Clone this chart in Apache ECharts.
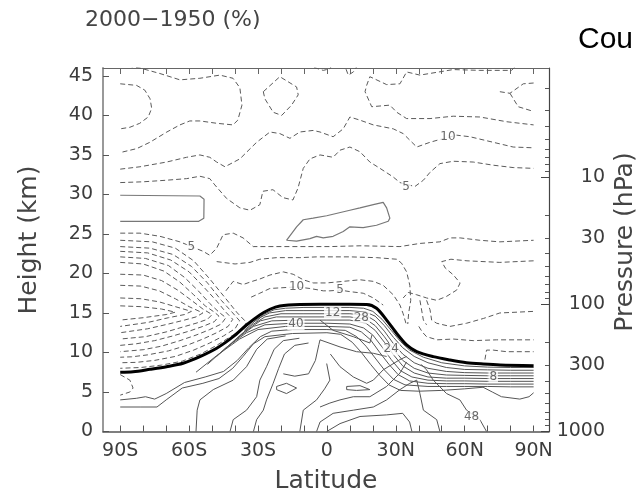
<!DOCTYPE html>
<html><head><meta charset="utf-8">
<script src="https://cdn.jsdelivr.net/npm/echarts@6/dist/echarts.min.js"></script>
<style>html,body{margin:0;padding:0;background:#fff}#c{width:636px;height:497px}</style>
</head><body><div id="c"></div>
<script>
// ---------- axis ticks / labels ----------
const xTickValues = [-90,-80,-70,-60,-50,-40,-30,-20,-10,0,10,20,30,40,50,60,70,80,90];
const xLabelValues = [-90,-60,-30,0,30,60,90];
const xLabelTexts = ['90S','60S','30S','0','30N','60N','90N'];
const yTickValues = [0,5,10,15,20,25,30,35,40,45];
const pressureTicks = [2,3,4,5,6,7,8,9,10,20,30,40,50,60,70,80,90,100,200,300,400,500,600,700,800,900,1000];
const pressureMajor = [10,100,1000];
const pressureLabels = [10,30,100,300,1000];

// ---------- tropopause (thick line): [latitude, height km] ----------
const tropopause = [[-90,7.5],[-84.4,7.57],[-77.1,7.87],[-69.8,8.2],[-62.6,8.63],[-55.3,9.47],[-48,10.53],[-40.8,12.0],[-35,13.48],[-29.2,14.75],[-24.8,15.47],[-20.5,15.89],[-11.8,16.08],[-3,16.1],[10,16.1],[17.3,16.08],[21.6,15.6],[26,14.1],[30.4,12.4],[34.7,10.95],[39.1,10.1],[46.3,9.47],[53.6,9.05],[60.8,8.71],[68.1,8.54],[75.4,8.42],[90,8.33]];

// ---------- negative (dashed) contours ----------
const negLoopOuter = [[-90,46.4],[-81.4,46.0],[-72.7,45.3],[-64,44.5],[-55.3,44.7],[-46.6,45.1],[-40.9,44.7],[-37.9,43.5],[-37,41.3],[-38.8,39.4],[-40.9,38.8],[-47.9,39.0],[-55.3,39.3],[-59.7,39.3],[-64,38.8],[-69.7,37.9],[-77.1,36.6],[-82.8,35.8],[-90,35.3]];
const negLoopInner = [[-90,44.0],[-82.9,43.8],[-79.3,43.2],[-77,42.1],[-76.3,40.9],[-77.8,39.8],[-81.5,39.0],[-85.8,38.5],[-90,38.3]];
const negDiamond = [[-27.7,43],[-20.5,44.9],[-13.2,43.6],[-12.5,42.6],[-15.4,41.3],[-19.7,40],[-23.4,40.4],[-27,42.1],[-27.7,43]];
const negTopA = [[-12,46.8],[-6,46.1],[-1.6,45.7],[1.3,45.9],[3,46.8]];
const negTopV = [[7.1,46.8],[9.3,45.1],[11.5,45.5],[14.4,46.8]];
const negLobe = [[84.1,46.8],[80.4,45.7],[66.6,45.7],[55,45.8],[40.5,45.1],[34.7,45.5],[31.8,44],[26,43.9],[18.7,44.9],[17.3,43.8],[16.6,43],[19.5,41.1],[27.4,41.3],[30.4,40.4],[34.7,39.6],[44.9,39.6],[55,39.9],[66.6,39.8],[78.3,39.2],[90,38.8]];
const negY1 = [[75.3,43],[79.7,42.8],[85.5,44],[90,44.1]];
const negY2 = [[79.7,42.8],[83.3,41.1],[90,40.5]];
const negL3 = [[-90,33.2],[-81.4,33.5],[-69.8,34.1],[-61.1,34.7],[-55.3,35],[-51,34.7],[-48,34.1],[-44.4,33.5],[-37.9,34.5],[-30.6,36.6],[-24.8,37.9],[-20.5,37.7],[-16.1,37.1],[-11.8,37.9],[-6,38.1],[-3,37.9],[2.7,37.3],[7.1,38.3],[10,39.8],[14.4,39.4],[20.2,38.8],[28.9,38.3],[33.2,37.7],[39.1,36],[44.9,36.6],[48.5,36.9],[56.5,37.5],[62.3,37.3],[72.4,36.6],[81.1,36],[90,35.9]];
const negL4 = [[-90,31.5],[-80,31.6],[-69.8,31.8],[-61.1,32],[-55.3,32.3],[-51,32],[-48.8,31.2],[-43.7,29.5],[-37.9,28.3],[-33.5,28],[-29.2,28.7],[-27.9,30.4],[-23.5,30.6],[-19.2,29.6],[-14.8,29.3],[-12.6,30.8],[-10.3,33.3],[-7.4,34.5],[-3,35],[2.7,34.7],[5.7,35.6],[10,36],[14.4,35.4],[18.7,34.1],[23.1,33.3],[28.9,32.2],[31.8,31.5],[38.3,31],[42,31.8],[44.9,32.8],[49.2,33.9],[55,34.2],[63.7,34.1],[72.4,33.7],[81.1,33.4],[90,33.3]];
const negLa = [[-90,25.1],[-81.4,25.1],[-72.7,24.7],[-64,24],[-53.9,22.8],[-51,22.3],[-48,23.2],[-45.2,24.9],[-40.8,25.1],[-36.5,24.5],[-32.1,23.4],[-24.8,23.4],[-11.8,23.4],[1.3,23.4],[14.4,23.5],[31.8,23.4],[40.5,23.8],[49.2,24],[53.6,24.5],[58,24.5],[66.6,24.2],[75.3,24],[90,24.2]];
const negU0 = [[-90,24.2],[-76,24.0],[-66,23.2],[-58,21.6],[-51,19.3],[-44,16.8],[-39,15.0],[-35,13.8],[-37,12.9],[-42,12.0],[-48,10.9],[-55,9.8],[-63,8.9],[-72,8.4],[-81,8.1],[-90,8.0]];
const negU1 = [[-90,23.4],[-77,23.2],[-67,22.4],[-59,20.9],[-52,18.8],[-46,16.6],[-41,15.0],[-38,14.0],[-40,13.0],[-45,12.1],[-51,11.2],[-58,10.3],[-66,9.5],[-75,9.0],[-83,8.75],[-90,8.7]];
const negU2 = [[-90,22.8],[-78,22.6],[-68,21.7],[-60,20.2],[-54,18.4],[-48,16.5],[-44,15.1],[-41,14.2],[-43,13.3],[-48,12.5],[-54,11.7],[-61,10.9],[-69,10.2],[-78,9.7],[-85,9.45],[-90,9.4]];
const negU3 = [[-90,22.1],[-79,21.9],[-69,21.0],[-62,19.5],[-56,17.8],[-51,16.2],[-47,15.1],[-44,14.4],[-46,13.6],[-51,12.9],[-57,12.2],[-64,11.5],[-72,10.8],[-80,10.35],[-90,10.1]];
const negU4 = [[-90,21.4],[-80,21.2],[-71,20.3],[-64,18.9],[-58,17.3],[-53,15.9],[-49,15.1],[-47,14.6],[-49,13.9],[-54,13.3],[-60,12.7],[-67,12.1],[-75,11.5],[-83,11.1],[-90,10.9]];
const negU5 = [[-90,19.9],[-80,19.8],[-72,19.1],[-65,17.9],[-59,16.6],[-54,15.5],[-50,14.8],[-52,14.2],[-57,13.7],[-63,13.2],[-70,12.6],[-79,12.0],[-90,11.7]];
const negU6 = [[-90,18.5],[-81,18.4],[-73,17.8],[-66,16.8],[-60,15.8],[-54,15.0],[-57,14.5],[-62,14.1],[-69,13.6],[-78,13.0],[-90,12.5]];
const negU7 = [[-90,16.9],[-81,16.8],[-73,16.4],[-66,15.8],[-59,15.2],[-62,14.8],[-69,14.4],[-78,13.8],[-90,13.3]];
const negU8 = [[-90,15.9],[-81,15.8],[-72,15.5],[-66,15.1],[-70,14.8],[-80,14.4],[-90,14.1]];
const negZ9b = [[-48,21.5],[-40,21.2],[-33.5,21.4],[-29.2,21.8],[-21.9,22],[-11.8,22],[-4.5,22.1],[10,22.1],[21.6,22],[30.4,21.8],[32.5,21.3],[34.7,20.2],[36.1,18.5],[36.5,16.6],[35.6,15.0],[35.2,13.6]];
const negZ9c = [[-44,17.8],[-40.8,19.0],[-36.5,18.6],[-32.5,19.0],[-29.2,19.3],[-24.8,19.8],[-19,20.2],[-14.7,19.9],[-10.3,19.2],[-6,18.8],[-0.1,18.8],[7.1,19],[14.4,19.2],[20.2,19],[24.5,18.5],[28.9,17.3],[31.8,16.0],[33.2,14.9],[34.4,13.7]];
const negZ9d = [[-33,17.0],[-29.2,17.5],[-24.8,18.1],[-13.2,18.3],[-7.4,18.1],[-1.6,17.8],[1.3,17.8],[5.7,17.9],[10,17.7],[15.8,17.5],[20.2,16.9],[24.5,16.0]];
const negZ10 = [[90,21.6],[75.3,21.4],[61,21.6],[54,21.8],[50,21.5],[51.5,20.7],[55.1,19.8],[58,18.8],[56.5,17.9],[52.1,17.1],[47.8,16.6],[43.4,16.9],[39.1,17.3],[35.4,17.6],[33.2,16.9]];
const negNH15 = [[43.4,16.6],[44.9,15.4],[45.6,14.1],[47.8,13.7],[53.6,13.3],[60.8,13.7],[68.1,14.3],[75.3,15.0],[90,15.2]];
const negNH15b = [[40.5,16.6],[42,14.1],[43.4,13.5]];
const negNH12 = [[40,13.3],[41.5,12.6],[43.4,12.0],[48,11.6],[55,11.7],[63.7,11.5],[73.9,11.6],[90,11.6]];
const negNH10 = [[68.8,9.1],[69.5,10.3],[72.4,10.3],[78.3,10.1],[90,10.1]];
const negPolarLow = [[-90,7.2],[-85.8,6.5],[-84.4,5.5],[-85.8,5.0],[-90,4.6]];

// ---------- positive (solid) contours ----------
const posBox = [[-90,29.9],[-55.3,29.8],[-53.5,29.4],[-53.6,27.0],[-55.8,26.6],[-90,26.6]];
const posTongue = [[-17.6,24.2],[-13.2,25.9],[-10.3,26.8],[-6,27.0],[-0.1,27.3],[10,28.0],[14.4,28.3],[20.2,28.7],[24.5,29.0],[26,28.3],[27.4,27.0],[26.7,26.6],[21.6,26.1],[15.8,25.8],[10,25.9],[7.1,25.3],[2.7,24.7],[-1.6,24.5],[-4.5,24.7],[-7.4,24.4],[-13.2,24.1],[-17.6,24.2]];
const band0 = [[-31,13.9],[-27,14.9],[-23,15.4],[-18,15.6],[-10,15.7],[0,15.7],[10,15.7],[16,15.6],[20,15.2],[24,14.2],[28,12.8],[32,11.4],[36,10.3],[42,9.4],[50,8.7],[60,8.3],[70,8.15],[80,8.1],[90,8.1]];
const band1 = [[-36,12.8],[-30,14.3],[-25,15.0],[-18,15.3],[-10,15.3],[0,15.3],[10,15.3],[17,15.1],[21,14.6],[25,13.4],[29,11.9],[33,10.6],[38,9.5],[44,8.7],[52,8.1],[60,7.85],[70,7.8],[80,7.75],[90,7.75]];
const band2 = [[-40,11.6],[-33,13.4],[-27,14.5],[-20,14.9],[-10,14.9],[0,14.9],[10,14.9],[17,14.7],[21,14.0],[25,12.7],[29,11.1],[33,9.8],[38,8.7],[44,8.0],[52,7.6],[60,7.45],[70,7.4],[80,7.4],[90,7.4]];
const band3 = [[-44,10.5],[-36,12.6],[-29,14.0],[-22,14.5],[-10,14.5],[0,14.5],[10,14.5],[17,14.2],[21,13.4],[25,12.0],[29,10.4],[33,9.0],[38,8.0],[44,7.4],[52,7.15],[60,7.1],[70,7.05],[80,7.05],[90,7.05]];
const band4 = [[-48,9.5],[-40,11.6],[-32,13.3],[-24,14.0],[-12,14.1],[0,14.1],[10,14.1],[17,13.7],[21,12.8],[25,11.3],[29,9.7],[33,8.3],[38,7.4],[44,6.9],[52,6.75],[60,6.75],[70,6.7],[80,6.7],[90,6.7]];
const band5 = [[-52,8.5],[-44,10.6],[-35,12.5],[-27,13.5],[-15,13.7],[0,13.7],[10,13.6],[16,13.1],[20,12.2],[24,10.7],[28,9.1],[32,7.7],[37,6.9],[44,6.5],[52,6.4],[60,6.4],[70,6.35],[80,6.35],[90,6.35]];
const band6 = [[-57,7.5],[-48,9.6],[-38,11.7],[-30,12.9],[-18,13.3],[0,13.3],[10,13.2],[15,12.6],[19,11.6],[23,10.0],[27,8.5],[31,7.2],[36,6.4],[44,6.1],[52,6.05],[60,6.05],[70,6.0],[80,6.0],[90,6.0]];
const band7 = [[-90,4.0],[-83,4.2],[-79,4.4],[-75,4.1],[-70,4.8],[-62,6.2],[-53,6.9],[-45,7.6],[-39,9.0],[-34,10.6],[-29,12.0],[-24,12.7],[-15,12.9],[0,12.9],[8,12.8],[13,12.0],[17,10.8],[21,9.3],[25,7.8],[29,6.6],[34,5.9],[44,5.7],[52,5.7],[60,5.7],[70,5.7],[80,5.65],[90,5.65]];
const band8 = [[-90,3.1],[-81,3.1],[-74,3.1],[-70,4.0],[-63,5.5],[-54,6.1],[-47,6.7],[-41,8.0],[-36.5,9.5],[-32,11.1],[-27,12.0],[-15,12.4],[0,12.5],[6,12.3],[11,11.3],[15,10.0],[19,8.5],[23,7.1],[27,5.9],[32,5.2],[40,5.1],[50,5.2],[60,5.4],[68,5.6],[72,5.0],[76,4.4],[84,4.1],[88,4.4],[90,4.9]];
const posP2 = [[-57,0],[-56.5,2.7],[-55.3,4.0],[-49.5,5.3],[-40.8,6.5],[-35,8.2],[-30.6,10.4],[-26,11.7],[-18,12.1]];
const posP3 = [[-42.2,0],[-40.8,1.5],[-35,2.7],[-30.6,4.4],[-29.2,6.5],[-26.3,8.2],[-23,10.4],[-19,11.5],[-12,11.8]];
const posP4 = [[-32,0],[-30.6,1.5],[-27.7,2.7],[-26.3,4.0],[-23.4,6.1],[-21,8.0],[-18.5,9.8],[-14,10.9],[-8,11.2]];
const posSHloop = [[-21.9,5.7],[-17.6,6.1],[-13.2,5.5],[-17.6,4.8],[-21.9,5.3],[-21.9,5.7]];
const posSHU = [[-19,7.3],[-14,7.0],[-8,7.3],[-5,9.0],[-3.5,11.0],[-3,11.6],[5.7,10.7],[12.9,10.1],[20.2,9.9],[26,9.5]];
const posT1 = [[-3,14.1],[2.7,12.8],[11.5,12.0],[18.7,11.2],[19.6,12.2]];
const posT3 = [[-0.1,8.6],[1.3,6.5],[-1,5.4],[-4.5,4.0],[-10.3,2.7],[-11.8,0]];
const posT4 = [[1.5,9.8],[5.7,8.2],[11.5,6.9],[17.3,6.1],[20.2,6.5],[24.5,7.8],[31.8,9.1],[34.7,9.5]];
const posT5 = [[-3,3.1],[1.3,3.6],[5.7,4.0],[11.5,4.4],[18.7,4.4],[26,5.7],[31.8,7.4],[34.7,8.8]];
const posT6 = [[-4.5,0],[-3,1.2],[2.7,2.3],[11.5,2.7],[20.2,3.1],[26,4.0],[31.8,5.3],[36.1,6.1],[39.1,6.5],[40.5,4.8],[42,2.7],[47.8,1.5],[49.2,0]];
const posT7 = [[-0.1,0],[5.7,1.0],[14.4,1.9],[26,2.1],[33,2.3],[36,1.2],[37,0]];
const posNHloop = [[8.6,5.7],[14.4,5.8],[18.7,5.3],[12.9,5.2],[8.6,5.3],[8.6,5.7]];
const pos48 = [[41,8.5],[43.4,7.8],[46.3,6.5],[52.1,4.8],[57.9,4.0],[60.8,2.7],[66.6,1.5],[69.5,0]];

// ---------- contour labels: [text, latitude, height] ----------
const contourLabels = [
  ['5',-59,23.4],['5',34.5,31.0],['10',52.7,37.3],['10',-13.2,18.3],['5',5.7,17.9],
  ['40',-13.5,13.6],['12',2.5,15.0],['28',15,14.4],['24',28,10.4],['8',72.4,6.9],['48',63,1.8]
];

const negativeContours = [negLoopOuter,negLoopInner,negDiamond,negTopA,negTopV,negLobe,negY1,negY2,negL3,negL4,negLa,
  negU0,negU1,negU2,negU3,negU4,negU5,negU6,negU7,negU8,negZ9b,negZ9c,negZ9d,negZ10,negNH15,negNH15b,negNH12,negNH10,negPolarLow];
const positiveContours = [band0,band1,band2,band3,band4,band5,band6,band7,band8,posP2,posP3,posP4,posSHloop,posSHU,
  posT1,posT3,posT4,posT5,posT6,posT7,posNHloop,pos48];
const outlineContours = [posBox,posTongue];

// ---------- chart ----------
const TXT = '#3c3c3c';
const FONT = 'DejaVu Sans';
const chart = echarts.init(document.getElementById('c'));
const series = [];
negativeContours.forEach(d => series.push({type:'line',data:d,symbol:'none',silent:true,animation:false,z:2,
  lineStyle:{color:'#5a5a5a',width:1,type:[5,3]}}));
positiveContours.forEach(d => series.push({type:'line',data:d,symbol:'none',silent:true,animation:false,z:2,
  lineStyle:{color:'#555',width:1}}));
outlineContours.forEach(d => series.push({type:'line',data:d,symbol:'none',silent:true,animation:false,z:2,
  lineStyle:{color:'#777',width:1.2}}));
series.push({type:'line',data:tropopause,symbol:'none',silent:true,animation:false,z:4,smooth:0.3,
  lineStyle:{color:'#000',width:3}});
series.push({type:'scatter',silent:true,animation:false,z:5,symbolSize:1,itemStyle:{color:'rgba(0,0,0,0)'},
  data:contourLabels.map(l => ({name:l[0],value:[l[1],l[2]]})),
  label:{show:true,position:'inside',formatter:'{b}',fontSize:12,fontFamily:FONT,color:'#444',backgroundColor:'#fff',padding:[0,1]}});

const log10 = v => Math.log10(v);
const pMin = 3 - 46/16.1;

chart.setOption({
  animation:false,
  grid:{left:103,right:87,top:68,bottom:65.5},
  xAxis:[
    {type:'value',min:-97.5,max:96.7,position:'bottom',
     axisLine:{show:true,onZero:false,lineStyle:{color:'#555',width:1.5}},
     axisTick:{show:true,inside:true,length:6,customValues:xTickValues,lineStyle:{color:'#555'}},
     axisLabel:{customValues:xLabelValues,formatter:v=>xLabelTexts[xLabelValues.indexOf(Math.round(v))],
       fontSize:19,fontFamily:FONT,color:TXT,margin:10},
     splitLine:{show:false}},
    {type:'value',min:-97.5,max:96.7,position:'top',
     axisLine:{show:true,onZero:false,lineStyle:{color:'#666',width:1}},
     axisTick:{show:true,inside:true,length:6,customValues:xTickValues,lineStyle:{color:'#666'}},
     axisLabel:{show:false},splitLine:{show:false}}
  ],
  yAxis:[
    {type:'value',min:0,max:46,position:'left',
     axisLine:{show:true,onZero:false,lineStyle:{color:'#999',width:2}},
     axisTick:{show:true,inside:true,length:6,customValues:yTickValues,lineStyle:{color:'#555'}},
     axisLabel:{customValues:yTickValues,fontSize:19,fontFamily:FONT,color:TXT,margin:10},
     splitLine:{show:false}},
    {type:'value',min:pMin,max:3,inverse:true,position:'right',
     axisLine:{show:true,onZero:false,lineStyle:{color:'#444',width:1.2}},
     axisTick:{show:true,inside:true,length:4,customValues:pressureTicks.map(log10),lineStyle:{color:'#555'}},
     axisLabel:{customValues:pressureLabels.map(log10),formatter:v=>String(Math.round(Math.pow(10,v))),
       fontSize:19,fontFamily:FONT,color:TXT,margin:56,align:'right'},
     splitLine:{show:false}},
    {type:'value',min:pMin,max:3,inverse:true,position:'right',
     axisLine:{show:false,onZero:false},
     axisTick:{show:true,inside:true,length:8,customValues:pressureMajor.map(log10),lineStyle:{color:'#444'}},
     axisLabel:{show:false},splitLine:{show:false}}
  ],
  graphic:[
    {type:'text',x:85,y:20,style:{text:'2000\u22121950 (%)',font:'22px "DejaVu Sans"',fill:'#444',textAlign:'left',textVerticalAlign:'middle',align:'left',verticalAlign:'middle'}},
    {type:'text',x:578,y:40,style:{text:'Cou',font:'30px "Liberation Sans"',fill:'#000',textAlign:'left',textVerticalAlign:'middle',align:'left',verticalAlign:'middle'}},
    {type:'text',x:29,y:240,rotation:Math.PI/2,style:{text:'Height (km)',font:'25px "DejaVu Sans"',fill:'#444',textAlign:'center',textVerticalAlign:'middle',align:'center',verticalAlign:'middle'}},
    {type:'text',x:625,y:242,rotation:Math.PI/2,style:{text:'Pressure (hPa)',font:'25px "DejaVu Sans"',fill:'#444',textAlign:'center',textVerticalAlign:'middle',align:'center',verticalAlign:'middle'}},
    {type:'text',x:326,y:481,style:{text:'Latitude',font:'25px "DejaVu Sans"',fill:'#444',textAlign:'center',textVerticalAlign:'middle',align:'center',verticalAlign:'middle'}}
  ],
  series:series.map(s => Object.assign(s,{xAxisIndex:0,yAxisIndex:0}))
});
</script></body></html>
